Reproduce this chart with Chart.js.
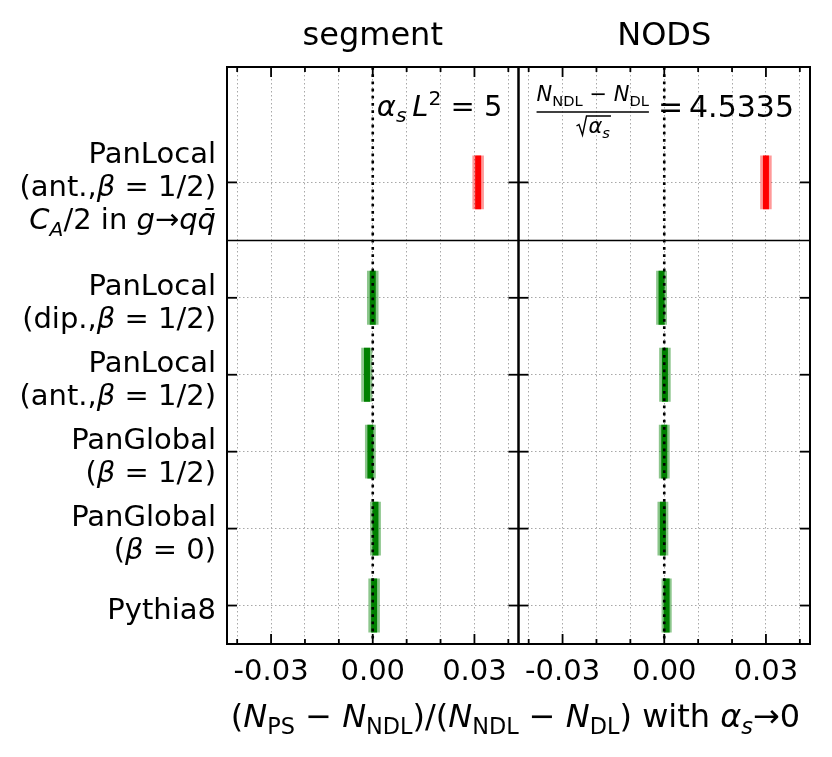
<!DOCTYPE html>
<html>
<head>
<meta charset="utf-8">
<script src="https://cdn.jsdelivr.net/npm/chart.js@4.4.1/dist/chart.umd.min.js"></script>
<style>
  html, body { margin: 0; padding: 0; background: #fff; }
</style>
</head>
<body>
<canvas id="chart" width="832" height="757"></canvas>
<script>
// rows from top to bottom; the C_A/2 variant sits above the divider line
const rowLabels = [
  ['PanLocal', '(ant.,<i>β</i> = 1/2)', '<i>C</i><sub><i>A</i></sub>/2 in <i>g</i>→<i>qq̄</i>'],
  ['PanLocal', '(dip.,<i>β</i> = 1/2)'],
  ['PanLocal', '(ant.,<i>β</i> = 1/2)'],
  ['PanGlobal', '(<i>β</i> = 1/2)'],
  ['PanGlobal', '(<i>β</i> = 0)'],
  ['Pythia8']
];
const rowPos = [5.5, 4, 3, 2, 1, 0];
const segmentVals = [0.0311, 0.0000, -0.0017, -0.0007, 0.0008, 0.0004];
const segmentErrs = [0.0017, 0.0017, 0.0017, 0.0016, 0.0016, 0.0017];
const nodsVals = [0.0300, -0.0008, 0.0002, 0.0000, -0.0004, 0.0007];
const nodsErrs = [0.0017, 0.0016, 0.0017, 0.0016, 0.0016, 0.0015];
const dividerY = 4.75;
const yMin = -0.5, yMax = 7;
const xMin = -0.043, xMax = 0.043;
const gridTicks = [-0.04, -0.03, -0.02, -0.01, 0, 0.01, 0.02, 0.03, 0.04];
const labelTicks = [-0.03, 0, 0.03];
const panelTitles = ['segment', 'NODS'];
const xTitle = '(<i>N</i><sub>PS</sub> − <i>N</i><sub>NDL</sub>)/(<i>N</i><sub>NDL</sub> − <i>N</i><sub>DL</sub>) with <i>α<sub>s</sub></i>→0';
const segmentNote = '<i>α<sub>s</sub></i>\u2009<i>L</i><sup>2</sup> = 5';
const nodsNum = '<i>N</i><sub>NDL</sub> − <i>N</i><sub>DL</sub>';
const nodsDen = '<i>α<sub>s</sub></i>';
const nodsRhs = '=\u20094.5335';

const HALF = 0.35;        // half height of a marker, in row units
const FONT = 'DejaVu Sans';
const GRID = '#a8a8a8';
const colorOf = (y, light) => y > dividerY
  ? (light ? 'rgba(255,0,0,0.4)' : '#ff0000')
  : (light ? 'rgba(0,128,0,0.45)' : '#008000');

Chart.defaults.font.family = FONT;
Chart.defaults.color = '#000';

function parseRich(str) {
  const segs = [];
  const depth = { i: 0, sub: 0, sup: 0 };
  str.split(/(<\/?(?:i|sub|sup)>)/).forEach(part => {
    const tag = part.match(/^<(\/?)(i|sub|sup)>$/);
    if (tag) { depth[tag[2]] += tag[1] ? -1 : 1; return; }
    if (part) segs.push({ text: part, italic: depth.i > 0, sub: depth.sub > 0, sup: depth.sup > 0 });
  });
  return segs;
}

function layoutRich(ctx, str, size) {
  const segs = parseRich(str);
  let width = 0;
  segs.forEach(s => {
    s.size = (s.sub || s.sup) ? size * 0.7 : size;
    s.font = (s.italic ? 'italic ' : '') + s.size + 'px "' + FONT + '"';
    ctx.font = s.font;
    s.w = ctx.measureText(s.text).width;
    width += s.w;
  });
  return { segs, width };
}

function drawRich(ctx, str, x, y, size, align) {
  const { segs, width } = layoutRich(ctx, str, size);
  let cx = align === 'right' ? x - width : align === 'center' ? x - width / 2 : x;
  ctx.textAlign = 'left';
  ctx.textBaseline = 'alphabetic';
  ctx.fillStyle = '#000';
  segs.forEach(s => {
    ctx.font = s.font;
    const dy = s.sub ? size * 0.22 : s.sup ? -size * 0.38 : 0;
    ctx.fillText(s.text, cx, y + dy);
    cx += s.w;
  });
  return width;
}

function line(ctx, x1, y1, x2, y2) {
  ctx.beginPath();
  ctx.moveTo(x1, y1);
  ctx.lineTo(x2, y2);
  ctx.stroke();
}

const decor = {
  id: 'decor',
  afterDatasetsDraw(chart) {
    const { ctx, chartArea: a, scales } = chart;
    ctx.save();
    ctx.strokeStyle = '#000';
    ctx.lineWidth = 2.6;
    ctx.setLineDash([2.8, 4.4]);
    ['xL', 'xR'].forEach(id => {
      const px = scales[id].getPixelForValue(0);
      line(ctx, px, a.top, px, a.bottom);
    });
    ctx.setLineDash([]);
    ctx.lineWidth = 1.5;
    const dy = Math.round(scales.y.getPixelForValue(dividerY)) + 0.5;
    line(ctx, a.left, dy, a.right, dy);
    ctx.restore();
  },
  afterDraw(chart) {
    const { ctx, chartArea: a, scales } = chart;
    ctx.save();
    ctx.strokeStyle = '#000';

    // inward tick marks
    ctx.lineWidth = 1.8;
    ['xL', 'xR'].forEach(id => {
      const s = scales[id];
      gridTicks.forEach(v => {
        const px = s.getPixelForValue(v);
        const len = labelTicks.includes(v) ? 10 : 5;
        line(ctx, px, a.bottom, px, a.bottom - len);
        line(ctx, px, a.top, px, a.top + len);
      });
    });
    const mid = scales.xL.right;
    rowPos.forEach(r => {
      const py = scales.y.getPixelForValue(r);
      line(ctx, a.left, py, a.left + 10, py);
      line(ctx, mid - 10, py, mid + 10, py);
      line(ctx, a.right - 10, py, a.right, py);
    });

    // panel frames
    ctx.lineWidth = 2;
    ['xL', 'xR'].forEach(id => {
      const s = scales[id];
      ctx.strokeRect(s.left, a.top, s.right - s.left, a.bottom - a.top);
    });

    // row labels
    const lineGap = 33.4;
    rowLabels.forEach((lines, i) => {
      const cy = scales.y.getPixelForValue(rowPos[i]);
      lines.forEach((txt, k) => {
        const by = cy + 13.6 + (k - (lines.length - 1) / 2) * lineGap;
        drawRich(ctx, txt, a.left - 11, by, 29, 'right');
      });
    });

    // annotations
    drawRich(ctx, segmentNote, scales.xL.right - 16, a.top + 49, 29, 'right');
    const rEdge = scales.xR.right - 16;
    const eqW = drawRich(ctx, nodsRhs, rEdge, a.top + 50, 30, 'right');
    const fs = 21;
    const numW = layoutRich(ctx, nodsNum, fs).width;
    const fx = rEdge - eqW - 9 - numW / 2;
    drawRich(ctx, nodsNum, fx, a.top + 34, fs, 'center');
    ctx.lineWidth = 1.5;
    line(ctx, fx - numW / 2, a.top + 45, fx + numW / 2, a.top + 45);
    // denominator: hand-drawn radical over alpha_s
    const by = a.top + 66;
    const denW = layoutRich(ctx, nodsDen, fs).width;
    const rootW = 11;
    const rx = fx - (rootW + denW) / 2;
    const oy = by - 17;
    ctx.lineWidth = 1.4;
    ctx.lineJoin = 'miter';
    ctx.beginPath();
    ctx.moveTo(rx, by - 7);
    ctx.lineTo(rx + 2.5, by - 8.5);
    ctx.lineTo(rx + 6, by + 2);
    ctx.lineTo(rx + rootW - 1, oy);
    ctx.lineTo(rx + rootW + denW + 2, oy);
    ctx.stroke();
    drawRich(ctx, nodsDen, rx + rootW + 1, by, fs, 'left');

    // x axis title across both panels
    drawRich(ctx, xTitle, (a.left + a.right) / 2 - 3, 727, 32, 'center');
    ctx.restore();
  }
};

function panelDatasets(axisId, vals, errs) {
  const bands = {
    type: 'bar',
    indexAxis: 'y',
    xAxisID: axisId,
    yAxisID: 'y',
    grouped: false,
    order: 2,
    barPercentage: 2 * HALF,
    categoryPercentage: 1,
    data: rowPos.map((y, i) => ({ y: y, x: [vals[i] - errs[i], vals[i] + errs[i]] })),
    backgroundColor: rowPos.map(y => colorOf(y, true))
  };
  const centres = rowPos.map((y, i) => ({
    type: 'line',
    xAxisID: axisId,
    yAxisID: 'y',
    order: 1,
    data: [{ x: vals[i], y: y - HALF }, { x: vals[i], y: y + HALF }],
    borderColor: colorOf(y, false),
    borderWidth: 6,
    borderCapStyle: 'butt',
    pointRadius: 0,
    fill: false
  }));
  return [bands, ...centres];
}

function bottomAxis(weight) {
  return {
    type: 'linear',
    position: 'bottom',
    stack: 'bottom',
    weight: weight,
    min: xMin,
    max: xMax,
    afterBuildTicks: s => { s.ticks = gridTicks.map(v => ({ value: v })); },
    afterFit: s => { s.height = 113; },
    ticks: {
      autoSkip: false,
      maxRotation: 0,
      padding: 11,
      font: { size: 29 },
      callback: v => labelTicks.includes(v) ? v.toFixed(2) : ''
    },
    grid: { color: GRID, lineWidth: 1, drawTicks: false },
    border: { display: false, dash: [1.5, 2.5] }
  };
}

function topAxis(title, weight) {
  return {
    type: 'linear',
    position: 'top',
    stack: 'top',
    weight: weight,
    min: xMin,
    max: xMax,
    afterFit: s => { s.height = 67; },
    ticks: { display: false },
    grid: { display: false, drawTicks: false },
    border: { display: false },
    title: { display: true, text: title, font: { size: 32 }, padding: { top: 17, bottom: 0 } }
  };
}

new Chart(document.getElementById('chart'), {
  data: {
    datasets: [...panelDatasets('xL', segmentVals, segmentErrs), ...panelDatasets('xR', nodsVals, nodsErrs)]
  },
  options: {
    responsive: false,
    animation: false,
    layout: { padding: { left: 0, right: 22, top: 0, bottom: 0 } },
    plugins: { legend: { display: false }, tooltip: { enabled: false } },
    scales: {
      xL: bottomAxis(0),
      xR: bottomAxis(0),
      xLt: topAxis(panelTitles[0], 1),
      xRt: topAxis(panelTitles[1], 0),
      y: {
        type: 'linear',
        position: 'left',
        min: yMin,
        max: yMax,
        offset: false,
        afterBuildTicks: s => { s.ticks = rowPos.map(v => ({ value: v })); },
        afterFit: s => { s.width = 227; },
        ticks: { display: false },
        grid: { color: GRID, lineWidth: 1, drawTicks: false, offset: false },
        border: { display: false, dash: [1.5, 2.5] }
      }
    }
  },
  plugins: [decor]
});
</script>
</body>
</html>
